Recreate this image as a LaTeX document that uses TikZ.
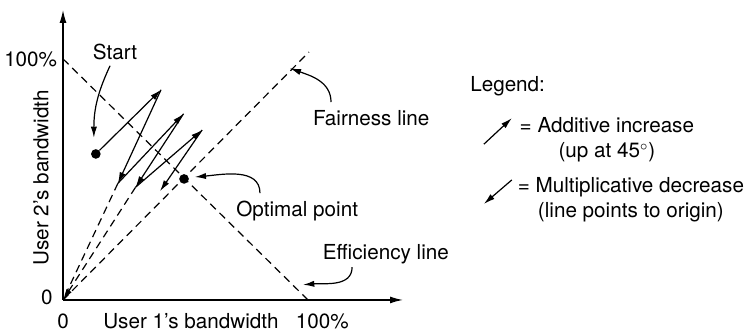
\documentclass[tikz,border=0pt]{standalone}
\usepackage{fontspec}
\setmainfont{TeX Gyre Heros}
\usetikzlibrary{positioning,arrows.meta}
\tikzset{
  axis/.style={line width=0.8pt, -{Latex[length=7.5pt,width=4pt]}},
  guide/.style={line width=0.7pt, dash pattern=on 4.5pt off 3pt},
  move/.style={line width=0.7pt, -{Latex[length=6.5pt,width=3.6pt]}},
  note/.style={line width=0.7pt, -{Latex[length=6.5pt,width=3.6pt]}},
  pt/.style={circle, fill=black, inner sep=0pt, minimum size=5.6pt},
  lbl/.style={font=\fontsize{12}{14.5}\selectfont, inner sep=1pt}
}

\begin{document}
\begin{tikzpicture}
  \useasboundingbox (-1.286,-0.653) rectangle (13.98,6.122);
  % axes
  \coordinate (O) at (0,0);
  \coordinate (ytop) at (0,5.92);
  \coordinate (xend) at (6.94,0);
  \draw[axis] (O) -- (ytop);
  \draw[axis] (O) -- (xend);
  \node[lbl] (y0) at (-0.33,0.05) {0};
  \node[lbl] (x0) at (0,-0.43) {0};
  \node[lbl] (ymax) at (-0.66,4.92) {100\%};
  \node[lbl] (xmax) at (5.29,-0.43) {100\%};
  \node[lbl] (xlab) at (2.61,-0.43) {User 1’s bandwidth};
  \node[lbl, rotate=90] (ylab) at (-0.45,2.49) {User 2’s bandwidth};
  % efficiency and fairness lines
  \coordinate (e1) at (0,4.92);
  \coordinate (e2) at (5.0,0);
  \coordinate (f2) at (5.02,5.06);
  \draw[guide] (e1) -- (e2);
  \draw[guide] (O) -- (f2);
  % trajectory
  \node[pt] (S) at (0.67,2.98) {};
  \node[pt] (opt) at (2.47,2.47) {};
  \coordinate (A1) at (2.0,4.29);
  \coordinate (D1) at (1.12,2.38);
  \coordinate (A2) at (2.46,3.80);
  \coordinate (D2) at (1.48,2.30);
  \coordinate (A3) at (2.84,3.47);
  \coordinate (D3) at (1.98,2.22);
  \draw[guide] (D1) -- (O);
  \draw[guide, -{Latex[length=6.5pt,width=3.6pt]}] (D2) -- (O);
  \draw[move] (S) -- (A1);
  \draw[move] (A1) -- (D1);
  \draw[move] (D1) -- (A2);
  \draw[move] (A2) -- (D2);
  \draw[move] (D2) -- (A3);
  \draw[move] (A3) -- (D3);
  % annotations
  \node[lbl] (startlbl) at (1.06,5.06) {Start};
  \coordinate (s1) at (0.96,4.78);
  \coordinate (s2) at (0.63,3.31);
  \draw[note] (s1) to[out=245, in=90] (s2);
  \node[lbl] (fairlbl) at (6.29,3.71) {Fairness line};
  \coordinate (fa1) at (5.47,4.04);
  \coordinate (fa2) at (4.63,4.73);
  \draw[note] (fa1) to[out=90, in=-20] (fa2);
  \node[lbl] (optlbl) at (4.78,1.82) {Optimal point};
  \coordinate (o1) at (4.02,2.18);
  \coordinate (o2) at (2.69,2.51);
  \draw[note] (o1) to[out=90, in=5] (o2);
  \node[lbl] (efflbl) at (6.59,0.94) {Efficiency line};
  \coordinate (ef1) at (5.90,0.67);
  \coordinate (ef2) at (4.90,0.31);
  \draw[note] (ef1) to[out=-90, in=5] (ef2);
  % legend
  \node[lbl, anchor=west] (leg) at (8.27,4.37) {Legend:};
  \coordinate (li1) at (8.59,3.18);
  \coordinate (li2) at (9.16,3.71);
  \draw[move] (li1) -- (li2);
  \node[lbl, align=center] (inclbl) at (11.10,3.27) {= Additive increase\\(up at 45$^\circ$)};
  \coordinate (ld1) at (9.16,2.45);
  \coordinate (ld2) at (8.59,1.96);
  \draw[move] (ld1) -- (ld2);
  \node[lbl, align=center] (declbl) at (11.59,2.04) {= Multiplicative decrease\\(line points to origin)};
\end{tikzpicture}
\end{document}
